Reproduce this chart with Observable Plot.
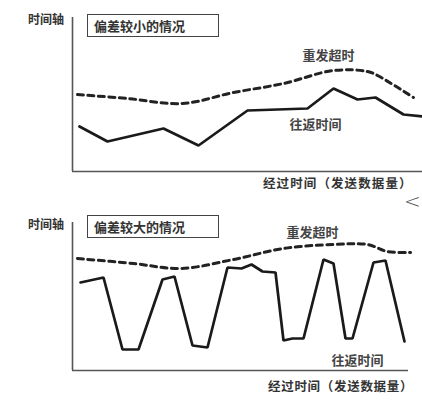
<!DOCTYPE html>
<html>
<head>
<meta charset="utf-8">
<script src="https://cdn.jsdelivr.net/npm/d3@7"></script>
<script src="https://cdn.jsdelivr.net/npm/@observablehq/plot@0.6"></script>
<style>
  html, body { margin: 0; padding: 0; background: #fff; }
  body { width: 422px; height: 410px; position: relative; overflow: hidden;
         font-family: "Noto Sans CJK SC", "Noto Sans", sans-serif; color: #333; }
  .panel { position: absolute; left: 0; }
  .ylab { position: absolute; left: 28px; font-size: 12px; font-weight: 700; line-height: 1; }
  .box { position: absolute; left: 87px; height: 23px; border: 1.4px solid #444;
         font-size: 13px; font-weight: 700; line-height: 21px; padding-left: 6px; box-sizing: border-box; width: 132px; }
  .xlab { position: absolute; left: 263px; font-size: 12.5px; font-weight: 700; line-height: 1; letter-spacing: 1.1px; }
  .lt { position: absolute; left: 404px; top: 191px; font-size: 20px; font-weight: 200; color: #555; line-height: 1;
        font-family: "DejaVu Sans", sans-serif; }
</style>
</head>
<body>
<div id="top" class="panel" style="top:0"></div>
<div id="bot" class="panel" style="top:205px"></div>
<div class="ylab" style="top:13px">时间轴</div>
<div class="box" style="top:14px">偏差较小的情况</div>
<div class="xlab" style="top:177px">经过时间（发送数据量）</div>
<div class="lt">&lt;</div>
<div class="ylab" style="top:218px">时间轴</div>
<div class="box" style="top:215px">偏差较大的情况</div>
<div class="xlab" style="top:380px; left:268px; letter-spacing:0.7px">经过时间（发送数据量）</div>
<script>
// Panel 1: small deviation
const smallRttX = [7, 35, 91, 126, 175, 235, 261, 285, 303, 331, 350];
const smallRttY = [45, 30, 43, 26, 61, 63, 83, 72, 74, 57, 55];
const smallRtoX = [5, 55, 110, 161, 211, 261, 295, 305, 341];
const smallRtoY = [77, 73, 68, 79, 88, 101, 100, 96, 74];

// Panel 2: large deviation
const largeRttX = [8, 31, 50, 66, 90, 102, 120, 135, 155, 169, 179, 190, 203, 211, 220, 231, 251, 261, 273, 280, 301, 313, 332];
const largeRttY = [88, 93, 21, 21, 91, 94, 25, 23, 103, 102, 106, 99, 98, 30, 32, 32, 111, 107, 32, 32, 108, 110, 29];
const largeRtoX = [5, 61, 108, 161, 211, 261, 295, 315, 338];
const largeRtoY = [112, 107, 102, 111, 122, 126, 126, 119, 118];

const seriesLabels = ["重发超时", "往返时间"];

const zip = (xs, ys) => xs.map((x, i) => ({x, y: ys[i]}));

function panel({rtt, rto, yMax, marginBottom, axisEnd, labels}) {
  return Plot.plot({
    width: 422,
    height: 205,
    marginLeft: 72,
    marginRight: 0,
    marginTop: 17,
    marginBottom,
    x: {domain: [0, 350], axis: null},
    y: {domain: [0, yMax], axis: null},
    style: {fontFamily: "'Noto Sans CJK SC', sans-serif", background: "transparent"},
    marks: [
      Plot.ruleX([0], {y1: 0, y2: yMax, stroke: "#555", strokeWidth: 1.6}),
      Plot.ruleY([0], {x1: 0, x2: axisEnd, stroke: "#555", strokeWidth: 1.6}),
      Plot.line(rto, {x: "x", y: "y", stroke: "#222", strokeWidth: 3, strokeDasharray: "6,4.5", curve: "catmull-rom"}),
      Plot.line(rtt, {x: "x", y: "y", stroke: "#1a1a1a", strokeWidth: 2.7, strokeLinejoin: "miter"}),
      Plot.text(labels, {x: "x", y: "y", text: "text", fontSize: 13, fontWeight: 700, fill: "#444"})
    ]
  });
}

document.getElementById("top").append(panel({
  rtt: zip(smallRttX, smallRttY),
  rto: zip(smallRtoX, smallRtoY),
  yMax: 154, marginBottom: 34, axisEnd: 350,
  labels: [{x: 256, y: 116, text: seriesLabels[0]}, {x: 243, y: 47, text: seriesLabels[1]}]
}));

document.getElementById("bot").append(panel({
  rtt: zip(largeRttX, largeRttY),
  rto: zip(largeRtoX, largeRtoY),
  yMax: 148, marginBottom: 40, axisEnd: 336,
  labels: [{x: 240, y: 138, text: seriesLabels[0]}, {x: 285, y: 10, text: seriesLabels[1]}]
}));
</script>
</body>
</html>
